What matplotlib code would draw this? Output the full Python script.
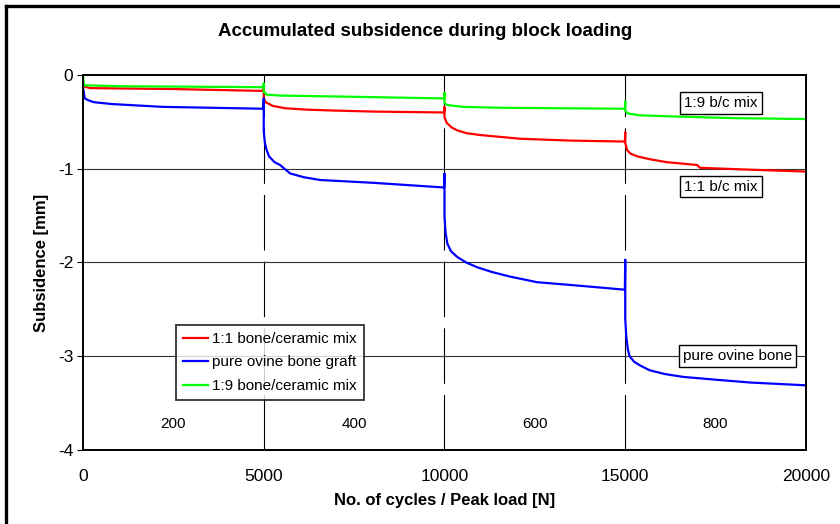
import matplotlib.pyplot as plt
from matplotlib.lines import Line2D

plt.rcParams['font.family'] = ['Liberation Sans', 'DejaVu Sans']
plt.rcParams['axes.unicode_minus'] = False

# data (cycles, subsidence in mm)
x_red = [0, 200, 2500, 4990, 5000, 5000, 5050, 5250, 5600, 6200, 7000, 8020, 9990,
         10000, 10000, 10060, 10200, 10350, 10600, 10980, 12090, 13500, 14990,
         15000, 15000, 15050, 15150, 15350, 15700, 16150, 16990, 17070, 18450, 20000]
y_red = [-0.12, -0.14, -0.15, -0.17, -0.14, -0.25, -0.29, -0.33, -0.355, -0.37, -0.38, -0.39, -0.40,
         -0.34, -0.45, -0.51, -0.56, -0.59, -0.62, -0.64, -0.68, -0.70, -0.71,
         -0.61, -0.72, -0.80, -0.84, -0.87, -0.90, -0.93, -0.96, -0.99, -1.01, -1.03]

x_blue = [0, 50, 150, 300, 800, 2200, 4990, 5000, 5000, 5030, 5080, 5150, 5300, 5450,
          5730, 6100, 6560, 8020, 9990, 10000, 10000, 10030, 10080, 10180, 10350, 10600,
          10900, 11300, 11810, 12560, 13800, 14990, 15000, 15000, 15030, 15070, 15120,
          15250, 15420, 15680, 16100, 16600, 17500, 18450, 20000]
y_blue = [-0.13, -0.25, -0.27, -0.29, -0.31, -0.34, -0.36, -0.25, -0.60, -0.72, -0.80, -0.87, -0.93, -0.96,
          -1.05, -1.09, -1.12, -1.15, -1.20, -1.05, -1.50, -1.68, -1.80, -1.88, -1.94, -2.00,
          -2.05, -2.10, -2.15, -2.21, -2.25, -2.29, -1.97, -2.60, -2.79, -2.92, -3.00,
          -3.06, -3.10, -3.15, -3.19, -3.22, -3.25, -3.28, -3.31]

x_green = [0, 30, 1000, 4990, 5000, 5000, 5080, 5500, 7100, 9990, 10000, 10000, 10080,
           10500, 11590, 14990, 15000, 15000, 15070, 15400, 16150, 17970, 20000]
y_green = [-0.01, -0.11, -0.12, -0.13, -0.09, -0.18, -0.21, -0.22, -0.23, -0.25, -0.19, -0.30, -0.32,
           -0.34, -0.35, -0.36, -0.28, -0.38, -0.41, -0.43, -0.44, -0.46, -0.47]

block_pos = [2500, 7500, 12500, 17500]
block_load = ['200', '400', '600', '800']
block_edges = [5000, 10000, 15000]

fig = plt.figure(figsize=(8.4, 5.24), dpi=100)
ax = fig.add_axes([0.0988, 0.1412, 0.8607, 0.7157])

ax.plot(x_red, y_red, color='#ff0000', lw=1.6, label='1:1 bone/ceramic mix')
ax.plot(x_blue, y_blue, color='#0000ff', lw=1.6, label='pure ovine bone graft')
ax.plot(x_green, y_green, color='#00ff00', lw=1.6, label='1:9 bone/ceramic mix')

for xe in block_edges:
    ax.axvline(xe, color='black', lw=0.8, dashes=(50, 10), zorder=0)
for yg in [-1, -2, -3]:
    ax.axhline(yg, color='#333333', lw=0.8, zorder=0)

for xp, lab in zip(block_pos, block_load):
    ax.text(xp, -3.72, lab, ha='center', va='center', fontsize=11)

box = dict(boxstyle='square,pad=0.25', fc='white', ec='black', lw=1)
ax.text(17650, -0.30, '1:9 b/c mix', ha='center', va='center', fontsize=11, bbox=box)
ax.text(17650, -1.19, '1:1 b/c mix', ha='center', va='center', fontsize=11, bbox=box)
ax.text(18100, -3.00, 'pure ovine bone', ha='center', va='center', fontsize=11, bbox=box)

ax.set_xlim(0, 20000)
ax.set_ylim(-4, 0)
ax.set_xticks([0, 5000, 10000, 15000, 20000])
ax.set_yticks([0, -1, -2, -3, -4])
ax.tick_params(labelsize=12.5)
ax.tick_params(axis='x', length=0, pad=14)
ax.tick_params(axis='y', length=4, pad=3)
for s in ax.spines.values():
    s.set_linewidth(1.4)

ax.set_xlabel('No. of cycles / Peak load [N]', fontsize=12, fontweight='bold', labelpad=6)
ax.set_ylabel('Subsidence [mm]', fontsize=12, fontweight='bold', labelpad=6)
fig.text(0.506, 0.94, 'Accumulated subsidence during block loading',
         ha='center', va='center', fontsize=13.5, fontweight='bold')

leg = ax.legend(loc='upper left', bbox_to_anchor=(0.129, 0.333), fontsize=11,
                frameon=True, fancybox=False, edgecolor='black', handlelength=1.6,
                borderpad=0.45, labelspacing=0.62, handletextpad=0.3, borderaxespad=0)
leg.get_frame().set_linewidth(1.3)

# outer frame: only top and left edges show in the reference
fig.add_artist(Line2D([0.0077, 1.0], [0.9895, 0.9895], transform=fig.transFigure,
                      color='black', lw=2.4))
fig.add_artist(Line2D([0.0077, 0.0077], [0.0, 0.9895], transform=fig.transFigure,
                      color='black', lw=2.4))

fig.savefig('out.png', dpi=100)
